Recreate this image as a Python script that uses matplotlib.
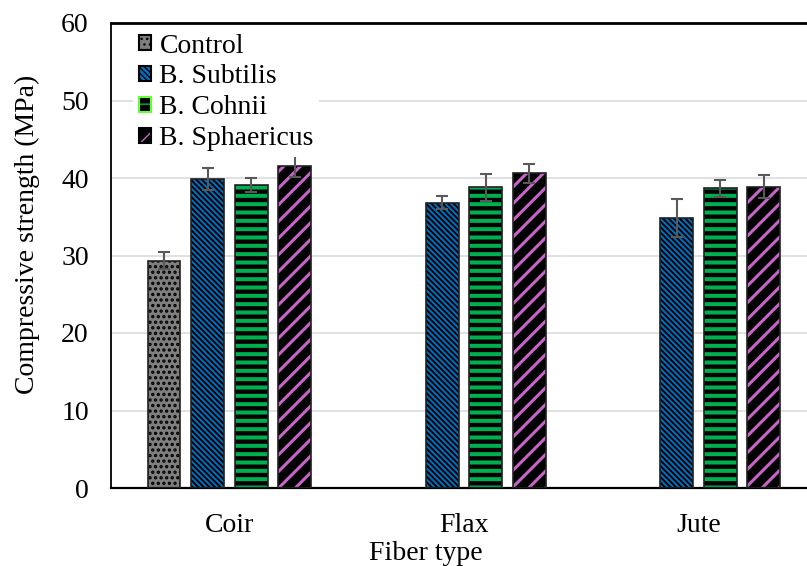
import matplotlib
matplotlib.use("Agg")
import matplotlib.pyplot as plt
from matplotlib.legend_handler import HandlerTuple
import numpy as np

categories = ["Coir", "Flax", "Jute"]
series = ["Control", "B. Subtilis", "B. Cohnii", "B. Sphaericus"]
control = [29.3, np.nan, np.nan]
subtilis = [39.9, 36.8, 34.9]
cohnii = [39.1, 38.8, 38.7]
sphaericus = [41.6, 40.6, 38.9]
control_err = [1.1, np.nan, np.nan]
subtilis_err = [1.45, 0.85, 2.45]
cohnii_err = [0.85, 1.75, 1.1]
sphaericus_err = [1.5, 1.2, 1.45]
yticks = [0, 10, 20, 30, 40, 50, 60]

values = [control, subtilis, cohnii, sphaericus]
errors = [control_err, subtilis_err, cohnii_err, sphaericus_err]

# (facecolor, hatch, hatch colour, hatch linewidth, legend border)
styles = [
    ("#7f7f7f", "...", "black", 1.6, "black"),
    ("#0070C0", "\\\\\\\\\\\\", "black", 1.4, "black"),
    ("black", "--", "#00B050", 2.9, "#66FF33"),
    ("black", "//", "#C864C8", 2.2, "black"),
]

plt.rcParams["font.family"] = ["Liberation Serif", "DejaVu Serif"]
plt.rcParams["font.size"] = 20

fig = plt.figure(figsize=(8.07, 5.66), dpi=100)
ax = fig.add_axes([111 / 807, 1 - 488 / 566, 1 - 111 / 807, (488 - 23) / 566])

x = np.arange(len(categories))
pitch = 0.186
width = 0.1407
handles = []
for i, (vals, errs, (fc, hatch, hc, hlw, lc)) in enumerate(zip(values, errors, styles)):
    pos = x + (i - 1.5) * pitch
    with plt.rc_context({"hatch.linewidth": hlw}):
        bars = ax.bar(pos, vals, width, color=fc, edgecolor=hc, linewidth=0,
                      hatch=hatch, zorder=2)
        for b in bars:
            if hasattr(b, "set_hatch_linewidth"):
                b.set_hatch_linewidth(hlw)
    ax.bar(pos, vals, width, facecolor="none", edgecolor="#202020",
           linewidth=1.2, zorder=3)
    ax.errorbar(pos, vals, yerr=errs, fmt="none", ecolor="#595959",
                elinewidth=1.5, capsize=4, capthick=1.5, zorder=4)
    with plt.rc_context({"hatch.linewidth": hlw}):
        h = plt.Rectangle((0, 0), 1, 1, facecolor=fc, edgecolor=hc,
                          hatch=hatch, linewidth=0)
        if hasattr(h, "set_hatch_linewidth"):
            h.set_hatch_linewidth(hlw)
    hb = plt.Rectangle((0, 0), 1, 1, facecolor="none", edgecolor=lc, linewidth=1.5)
    handles.append((h, hb))

ax.set_ylim(0, 60)
ax.set_yticks(yticks)
ax.set_xlim(-0.505, 2.463)
ax.set_xticks(x)
ax.set_xticklabels(categories)
ax.tick_params(axis="both", length=0)
ax.tick_params(axis="y", pad=16)
ax.tick_params(axis="x", pad=18)

ax.grid(axis="y", color="#d9d9d9", linewidth=1.1, zorder=0)
ax.set_axisbelow(True)
ax.spines["right"].set_visible(False)
ax.spines["top"].set_linewidth(2.0)
ax.spines["left"].set_linewidth(1.3)
ax.spines["bottom"].set_linewidth(1.6)
for s in ["top", "left", "bottom"]:
    ax.spines[s].set_color("black")

ax.set_xlabel("Fiber type")
ax.set_ylabel("Compressive strength (MPa)")
ax.xaxis.set_label_coords((426 - 111) / 696, -0.115)
ax.yaxis.set_label_coords((40 - 111) / 696, 0.546)

leg = ax.legend(handles, series, loc="upper left",
                handler_map={tuple: HandlerTuple(ndivide=1, pad=0)},
                bbox_to_anchor=(22 / 696, 1 - 5 / 465), borderaxespad=0,
                frameon=True, fancybox=False, edgecolor="none",
                facecolor="white", framealpha=1,
                handlelength=0.45, handleheight=0.45, handletextpad=0.3,
                labelspacing=0.21, borderpad=0.2)

fig.savefig("out.png", dpi=100)
